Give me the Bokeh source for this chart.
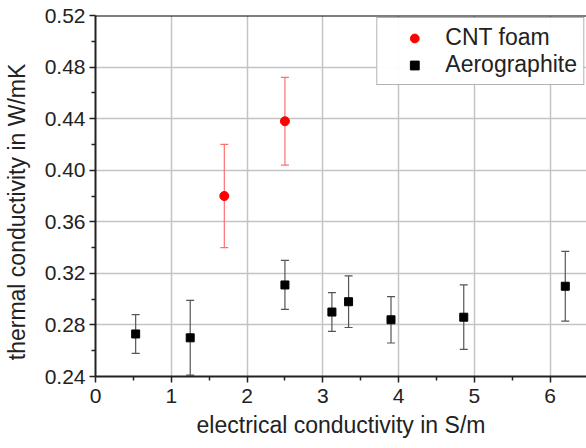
from bokeh.plotting import figure
from bokeh.models import (ColumnDataSource, Whisker, TeeHead, Legend, LegendItem,
                          Range1d, FixedTicker, Span, CustomJSTickFormatter)
from bokeh.embed import file_html
from bokeh.resources import INLINE

cnt_x = [1.70, 2.50]
cnt_y = [0.380, 0.438]
cnt_lo = [0.340, 0.404]
cnt_hi = [0.420, 0.472]

aero_x = [0.53, 1.25, 2.50, 3.12, 3.34, 3.90, 4.86, 6.20]
aero_y = [0.273, 0.270, 0.311, 0.290, 0.298, 0.284, 0.286, 0.310]
aero_lo = [0.258, 0.241, 0.292, 0.275, 0.278, 0.266, 0.261, 0.283]
aero_hi = [0.288, 0.299, 0.330, 0.305, 0.318, 0.302, 0.311, 0.337]

x_ticks = [0, 1, 2, 3, 4, 5, 6]
y_ticks = [0.24, 0.28, 0.32, 0.36, 0.40, 0.44, 0.48, 0.52]

FONT = "Liberation Sans"

p = figure(width=586, height=440, output_backend="svg", toolbar_location=None,
           x_range=Range1d(0, 6.48), y_range=Range1d(0.24, 0.52),
           min_border_left=8, min_border_right=0, min_border_top=15, min_border_bottom=0)
p.outline_line_color = None

cnt = ColumnDataSource(dict(x=cnt_x, y=cnt_y, lo=cnt_lo, hi=cnt_hi))
aero = ColumnDataSource(dict(x=aero_x, y=aero_y, lo=aero_lo, hi=aero_hi))

p.add_layout(Whisker(source=cnt, base="x", lower="lo", upper="hi",
                     line_color="#ff7070", line_width=1.2,
                     upper_head=TeeHead(size=8, line_color="#ff7070", line_width=1.2),
                     lower_head=TeeHead(size=8, line_color="#ff7070", line_width=1.2)))
p.add_layout(Whisker(source=aero, base="x", lower="lo", upper="hi",
                     line_color="#555555", line_width=1.2,
                     upper_head=TeeHead(size=8, line_color="#555555", line_width=1.2),
                     lower_head=TeeHead(size=8, line_color="#555555", line_width=1.2)))

r_cnt = p.scatter("x", "y", source=cnt, marker="circle", size=9, color="red")
r_aero = p.scatter("x", "y", source=aero, marker="square", size=8, color="black")

p.add_layout(Span(location=0.52, dimension="width", line_color="black", line_width=2))

p.xaxis.ticker = FixedTicker(ticks=x_ticks, minor_ticks=[0.5, 1.5, 2.5, 3.5, 4.5, 5.5])
p.yaxis.ticker = FixedTicker(ticks=y_ticks, minor_ticks=[0.26, 0.30, 0.34, 0.38, 0.42, 0.46, 0.50])
p.yaxis.formatter = CustomJSTickFormatter(code="return tick.toFixed(2);")

for ax in (p.xaxis[0], p.yaxis[0]):
    ax.axis_line_color = "#222222"
    ax.axis_line_width = 2
    ax.major_tick_line_color = "#222222"
    ax.minor_tick_line_color = "#222222"
    ax.major_tick_line_width = 1.5
    ax.minor_tick_line_width = 1.5
    ax.major_tick_out = 6
    ax.major_tick_in = 0
    ax.minor_tick_out = 4
    ax.minor_tick_in = 0
    ax.major_label_text_font = FONT
    ax.major_label_text_font_size = "21px"
    ax.major_label_text_color = "#222222"
    ax.axis_label_text_font = FONT
    ax.axis_label_text_font_size = "23px"
    ax.axis_label_text_font_style = "normal"
    ax.axis_label_text_color = "#222222"

p.xaxis.axis_label = "electrical conductivity in S/m"
p.yaxis.axis_label = "thermal conductivity in W/mK" + "\u00a0" * 5
p.xaxis.axis_label_standoff = 6
p.yaxis.axis_label_standoff = 12
p.xaxis.major_label_standoff = 6
p.yaxis.major_label_standoff = 4

p.xgrid.grid_line_color = "#c4c4c4"
p.ygrid.grid_line_color = "#c4c4c4"
p.xgrid.grid_line_width = 1.5
p.ygrid.grid_line_width = 1.5

legend = Legend(items=[LegendItem(label="CNT foam", renderers=[r_cnt]),
                       LegendItem(label="Aerographite", renderers=[r_aero])],
                location="top_right")
legend.label_text_font = FONT
legend.label_text_font_size = "23px"
legend.label_text_color = "#222222"
legend.label_height = 22
legend.border_line_color = "#666666"
legend.border_line_width = 1.5
legend.margin = 2
legend.padding = 6
legend.spacing = 0
legend.glyph_width = 62
legend.glyph_height = 22
legend.label_standoff = 0
p.add_layout(legend)

open("out.html", "w").write(file_html(p, INLINE))
